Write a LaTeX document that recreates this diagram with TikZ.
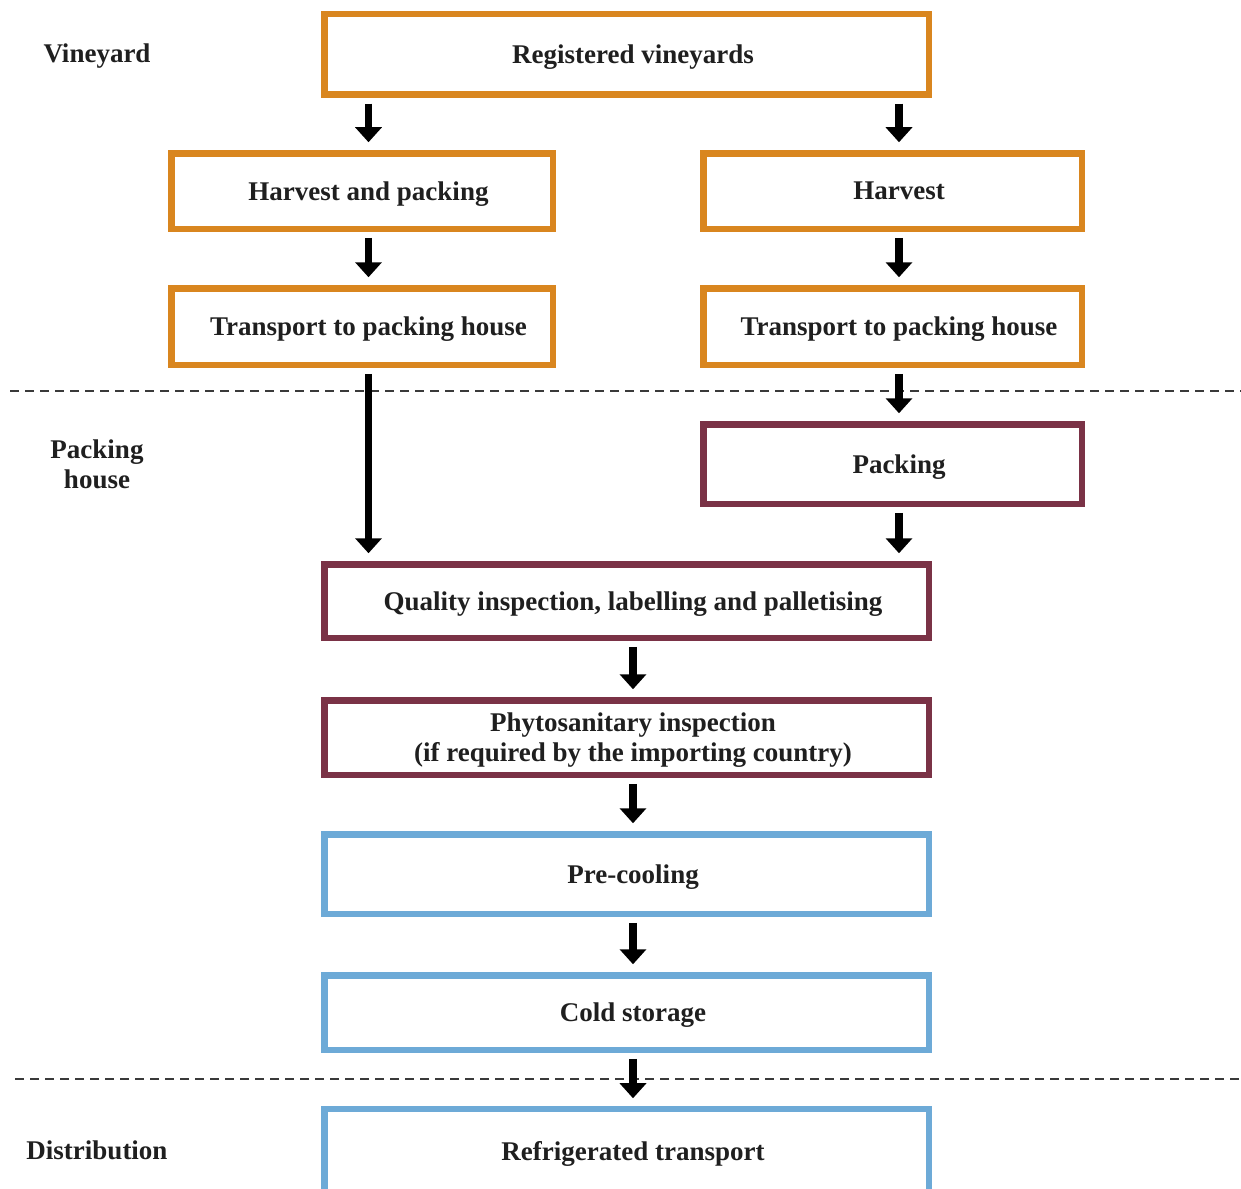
\documentclass[tikz,border=0pt]{standalone}
\usepackage{fontspec}
\setmainfont{Liberation Serif}
\usetikzlibrary{arrows.meta}
\definecolor{vorange}{HTML}{D9861F}
\definecolor{vmaroon}{HTML}{7A3246}
\definecolor{vblue}{HTML}{6DAAD7}
\definecolor{dashgray}{HTML}{3A3A3A}
\begin{document}
\begin{tikzpicture}[x=1pt,y=-1pt,
  box/.style={draw, line width=6.5pt, rectangle, inner sep=0pt, outer sep=0pt, fill=white},
  obox/.style={box, draw=vorange},
  mbox/.style={box, draw=vmaroon},
  bbox/.style={box, draw=vblue},
  wide/.style={minimum width=604.5pt},
  side/.style={minimum width=381.5pt},
  txt/.style={font=\bfseries\fontsize{27pt}{30pt}\selectfont, align=center, xshift=6.5pt, yshift=-3pt, inner sep=0pt, text=black!88, execute at begin node={\vphantom{Apg}}},
  stage/.style={font=\bfseries\fontsize{27pt}{30pt}\selectfont, align=center, inner sep=0pt, text=black!88, execute at begin node={\vphantom{Apg}}},
  arr/.style={line width=7.5pt, -{Triangle[width=26pt,length=15pt]}, shorten <=9pt, shorten >=11pt},
  sep/.style={draw=dashgray, line width=1.8pt, dash pattern=on 9pt off 6pt}
]
\useasboundingbox (0,0) rectangle (1241,1188);
\fill[white] (0,0) rectangle (1241,1188);

% section separators
\draw[sep] (10,391) -- (1241,391);
\draw[sep] (15,1079) -- (1241,1079);

% stage labels
\node[stage] (lvine) at (97,56) {Vineyard};
\node[stage] (lpack) at (97,467) {Packing\\house};
\node[stage] (ldist) at (97,1153) {Distribution};

% boxes
\node[obox, wide, minimum height=80.5pt, label={[txt]center:Registered vineyards}] (reg) at (626.5,54.5) {};
\node[obox, side, minimum height=75.5pt, label={[txt]center:Harvest and packing}] (hp) at (362,191) {};
\node[obox, side, minimum width=378.5pt, minimum height=75.5pt, label={[txt]center:Harvest}] (hr) at (892.5,191) {};
\node[obox, side, minimum height=76.5pt, label={[txt]center:Transport to packing house}] (tl) at (362,326.5) {};
\node[obox, side, minimum width=378.5pt, minimum height=76.5pt, label={[txt]center:Transport to packing house}] (tr) at (892.5,326.5) {};
\node[mbox, side, minimum width=378.5pt, minimum height=79.5pt, label={[txt]center:Packing}] (pk) at (892.5,464) {};
\node[mbox, wide, minimum height=73.5pt, label={[txt]center:Quality inspection, labelling and palletising}] (q) at (626.5,601) {};
\node[mbox, wide, minimum height=74.5pt, label={[txt]center:Phytosanitary inspection\\(if required by the importing country)}] (ph) at (626.5,737.5) {};
\node[bbox, wide, minimum height=79.5pt, label={[txt]center:Pre-cooling}] (pc) at (626.5,874) {};
\node[bbox, wide, minimum height=74.5pt, label={[txt]center:Cold storage}] (cs) at (626.5,1012.5) {};
\node[bbox, wide, minimum height=90.75pt, label={[txt, yshift=3.6pt]center:Refrigerated transport}] (rt) at (626.5,1154.6) {};

% arrows
\draw[arr] ([xshift=6.5pt]hp.north |- reg.south) -- ([xshift=6.5pt]hp.north);
\draw[arr] ([xshift=6.5pt]hr.north |- reg.south) -- ([xshift=6.5pt]hr.north);
\draw[arr] ([xshift=6.5pt]hp.south) -- ([xshift=6.5pt]tl.north);
\draw[arr] ([xshift=6.5pt]hr.south) -- ([xshift=6.5pt]tr.north);
\draw[arr] ([xshift=6.5pt]tl.south) -- ([xshift=6.5pt]tl.south |- q.north);
\draw[arr] ([xshift=6.5pt]tr.south) -- ([xshift=6.5pt]pk.north);
\draw[arr] ([xshift=6.5pt]pk.south) -- ([xshift=6.5pt]pk.south |- q.north);
\draw[arr] ([xshift=6.5pt]q.south) -- ([xshift=6.5pt]ph.north);
\draw[arr] ([xshift=6.5pt]ph.south) -- ([xshift=6.5pt]pc.north);
\draw[arr] ([xshift=6.5pt]pc.south) -- ([xshift=6.5pt]cs.north);
\draw[arr] ([xshift=6.5pt]cs.south) -- ([xshift=6.5pt]rt.north);
\end{tikzpicture}
\end{document}
